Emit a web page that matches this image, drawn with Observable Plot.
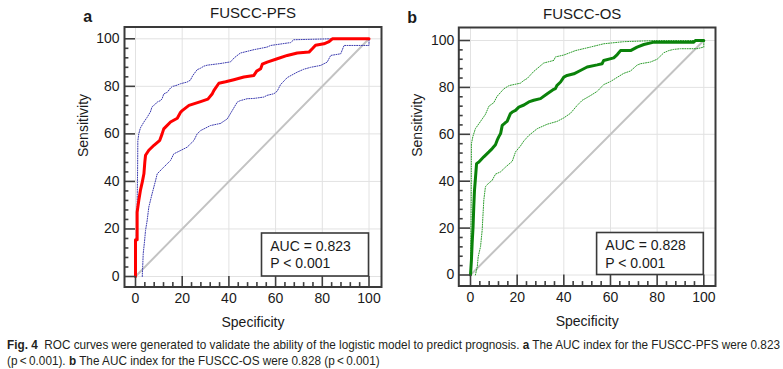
<!DOCTYPE html>
<html><head><meta charset="utf-8">
<script src="https://cdn.jsdelivr.net/npm/d3@7"></script>
<script src="https://cdn.jsdelivr.net/npm/@observablehq/plot@0.6"></script>
<style>
body{margin:0;background:#fff;}
#wrap{position:relative;width:783px;height:369px;overflow:hidden;background:#fff;}
#charts{position:absolute;left:0;top:0;display:flex;}
#cap{position:absolute;left:7px;top:336.5px;font-family:"Liberation Sans Narrow","Liberation Sans",Arial,sans-serif;font-size:13px;line-height:16.5px;color:#231f20;white-space:nowrap;transform-origin:0 0;}
#cap b{font-weight:bold;}
</style></head><body>
<div id="wrap"><div id="charts"></div>
<div id="cap"><div id="l1"><b>Fig. 4</b>&nbsp;&nbsp;ROC curves were generated to validate the ability of the logistic model to predict prognosis. <b>a</b> The AUC index for the FUSCC-PFS were 0.823</div><div id="l2">(p&#8201;&lt;&#8201;0.001). <b>b</b> The AUC index for the FUSCC-OS were 0.828 (p&#8201;&lt;&#8201;0.001)</div></div>
</div>
<script>
// ---- data ----
const majorTicks = [0, 20, 40, 60, 80, 100];
const tickLabels = ["0", "20", "40", "60", "80", "100"];
const minorTicks = [4, 8, 12, 16, 24, 28, 32, 36, 44, 48, 52, 56, 64, 68, 72, 76, 84, 88, 92, 96];
const diagSpec = [0, 100];
const diagSens = [0, 100];

const pfsTitle = "FUSCC-PFS";
const pfsLetter = "a";
const pfsAUC = ["AUC = 0.823", "P < 0.001"];
const pfsRocSpec = [0, 0, 0.7, 0.7, 1.4, 2.1, 2.9, 3.6, 4, 4.3, 5.7, 7.9, 10.4, 11.4, 12.1, 15, 17.9, 19.3, 20, 22.9, 27.9, 31, 32.9, 33.6, 35.7, 38.6, 42.1, 46.4, 50.7, 51.9, 53.6, 54.3, 56.4, 60.7, 65, 69.3, 74.3, 75.7, 77.1, 80.7, 82.9, 84.3, 100];
const pfsRocSens = [0, 15.5, 15.5, 27, 32, 36.2, 39.7, 43.2, 48.2, 51, 53.1, 55.2, 57.3, 60, 62.1, 65, 66.6, 69.1, 69.8, 72, 73.6, 74.6, 76.9, 78.3, 81.3, 81.9, 82.8, 83.9, 84.6, 86.4, 87.4, 89.3, 90.2, 91.6, 93, 94, 94.4, 95.8, 97.3, 97.9, 98.8, 100, 100];
const pfsUpperSpec = [0, 0.3, 0.7, 0.9, 1, 1.4, 2.1, 3.6, 5, 6.4, 7.1, 8.6, 9.3, 10.7, 11.4, 12.1, 13.6, 15, 15.7, 17.8, 19.3, 22.1, 23.5, 24.5, 26.4, 27.8, 29.3, 30.7, 36.4, 40.7, 42.3, 44.9, 50.6, 56.3, 57.9, 64.9, 66.4, 67.8, 83.5, 100];
const pfsUpperSens = [0, 15, 30, 45, 57, 60, 62.5, 65, 67, 69.3, 71.4, 72.6, 73.4, 74, 74.8, 76.8, 77.5, 79.3, 79.9, 80.5, 81.1, 81.8, 82.6, 84.5, 87, 87.6, 88.5, 88.9, 89.6, 90.3, 92, 94, 95.4, 96.5, 97.2, 98.2, 98.4, 99.6, 100, 100];
const pfsLowerSpec = [2.9, 3.3, 3.9, 4.3, 5, 5.7, 7.1, 8.6, 9.3, 12.1, 15, 16.4, 19.3, 22.1, 25, 26.4, 27.9, 30.7, 32.1, 36.4, 39.3, 40.7, 43.6, 44.9, 47.9, 50.6, 55, 56.3, 59.3, 60.7, 62.1, 65, 69.3, 72.1, 75, 79.3, 82.1, 83.6, 87.9, 89.3, 100, 100];
const pfsLowerSens = [0, 9.5, 15.1, 19.4, 23.6, 29.2, 34.8, 40.4, 43.2, 46, 48.8, 51.6, 53, 54.4, 57.2, 60, 61.4, 62.8, 63.5, 64.4, 66.3, 68.6, 73.4, 74, 74.8, 74.9, 75.5, 76.2, 76.9, 78, 80.7, 83.7, 86, 87.2, 88, 88.8, 90.2, 93, 93.7, 97.2, 97.2, 100];

const osTitle = "FUSCC-OS";
const osLetter = "b";
const osAUC = ["AUC = 0.828", "P < 0.001"];
const osRocSpec = [0, 0.4, 0.7, 1.1, 1.4, 1.7, 2.1, 2.6, 3.6, 5.7, 7.9, 9.3, 10.7, 11.4, 12.1, 12.9, 13.6, 15, 15.7, 17.1, 17.9, 19.3, 20.7, 22.9, 25, 27.1, 30, 32.9, 35.7, 36.4, 37.1, 38.6, 40, 41.4, 44.3, 47.1, 50, 54.3, 56.4, 57.1, 61.4, 62.9, 64.3, 68.6, 71.4, 74.3, 78.6, 95.7, 96.4, 100];
const osRocSens = [0, 6.4, 13.5, 20.6, 29, 36, 41, 47.5, 48.2, 50.4, 52.5, 53.9, 55.5, 57.4, 58.9, 60.3, 63.8, 65, 65.5, 68.8, 69.5, 70.2, 71.6, 72.5, 73.8, 74.5, 75.2, 77.3, 79.2, 79.5, 80.9, 82.3, 84.4, 85.1, 85.8, 87.2, 88.7, 89.6, 90.1, 91.5, 92.6, 94, 95.7, 95.7, 97.2, 98.3, 99.3, 99.3, 100, 100];
const osUpperSpec = [0, 0.3, 0.4, 1, 2.1, 3.6, 5, 6.4, 7.9, 10, 11.4, 14.3, 16.4, 17.1, 21.4, 22.9, 24.3, 27.1, 31.4, 35.7, 36.4, 40, 45, 51.4, 57.1, 65.7, 80, 100];
const osUpperSens = [0, 30, 56, 59, 62.4, 64.5, 66.5, 68.5, 72, 73.5, 76.2, 79.4, 80.7, 80.9, 81.8, 83, 83.8, 86.8, 90.4, 91.5, 93, 93.8, 95.7, 97.2, 98.6, 99.5, 100, 100];
const osLowerSpec = [2.1, 2.9, 3.3, 4.3, 5, 5.7, 6.4, 7.1, 9.3, 10.7, 12.9, 15, 17.9, 19.3, 21.4, 22.9, 25, 28.6, 32.9, 37.1, 40, 42.9, 45.7, 47.9, 51.4, 54.3, 57.1, 60, 62.9, 65.7, 68.6, 71.4, 72.9, 77.1, 80, 82.9, 85, 87.1, 90, 97.1, 100, 100];
const osLowerSens = [0, 3.5, 7.8, 12.1, 19.1, 31.9, 37.6, 38.5, 40.4, 43, 44, 46, 48.5, 52.5, 55, 57.2, 59.5, 62.4, 64.3, 65.5, 67, 69, 72.3, 74.5, 76.5, 78.3, 81.2, 82.5, 84.3, 86, 87, 89.5, 90.1, 90.8, 92, 94.8, 95.7, 96.2, 96.5, 96.5, 97.2, 100];

// ---- layout ----
const pairs = (a, b) => a.map((v, i) => ({spec: v, sens: b[i]}));

function aucBox(lines, boxW, boxH) {
  return (index, scales) => {
    const xr = scales.x(100), yb = scales.y(0);
    const g = d3.create("svg:g");
    g.append("rect").attr("x", xr - boxW).attr("y", yb - boxH).attr("width", boxW).attr("height", boxH)
      .attr("fill", "white").attr("stroke", "#3a3a3a").attr("stroke-width", 1.6);
    lines.forEach((t, i) => {
      g.append("text").attr("x", xr - boxW + 8.7).attr("y", yb - boxH + 17.7 + i * 17.3)
        .attr("text-anchor", "start").attr("font-size", 14).attr("fill", "#1a1a1a").text(t);
    });
    return g.node();
  };
}

function panel(cfg) {
  const kx = (cfg.x100 - cfg.x0) / 100, ky = (cfg.y0 - cfg.y100) / 100;
  const xL = (cfg.frameL - cfg.x0) / kx, xR = (cfg.frameR - cfg.x0) / kx;
  const yB = -(cfg.frameB - cfg.y0) / ky, yT = (cfg.y0 - cfg.frameT) / ky;
  const roc = pairs(cfg.rocSpec, cfg.rocSens);
  const up = pairs(cfg.upSpec, cfg.upSens);
  const lo = pairs(cfg.loSpec, cfg.loSens);
  const diag = pairs(diagSpec, diagSens);
  const tickCol = "#3f3f3f";
  return Plot.plot({
    width: cfg.width, height: 330,
    marginLeft: cfg.frameL - cfg.offset, marginRight: cfg.offset + cfg.width - cfg.frameR,
    marginTop: cfg.frameT, marginBottom: 330 - cfg.frameB,
    x: {domain: [xL, xR]}, y: {domain: [yB, yT]},
    style: {fontFamily: "'Liberation Sans', Arial, sans-serif", fontSize: "14px", color: "#1a1a1a", background: "white", overflow: "visible"},
    marks: [
      Plot.ruleX(majorTicks, {x: d => d, y1: 0, y2: yT, stroke: "#e2e2e2", strokeWidth: 1}),
      Plot.ruleY(majorTicks, {y: d => d, x1: 0, x2: xR, stroke: "#e2e2e2", strokeWidth: 1}),
      Plot.line(diag, {x: "spec", y: "sens", stroke: "#c3c3c3", strokeWidth: 2}),
      Plot.line(lo, {x: "spec", y: "sens", stroke: cfg.ciColor, strokeWidth: 1, strokeDasharray: "1,1.4"}),
      Plot.line(up, {x: "spec", y: "sens", stroke: cfg.ciColor, strokeWidth: 1, strokeDasharray: "1,1.4"}),
      Plot.line(roc, {x: "spec", y: "sens", stroke: cfg.color, strokeWidth: 3, strokeLinejoin: "round"}),
      aucBox(cfg.auc, cfg.boxW, cfg.boxH),
      Plot.ruleX(majorTicks, {x: d => d, y1: yB, y2: 0, stroke: tickCol, strokeWidth: 1.6}),
      Plot.ruleX(minorTicks, {x: d => d, y1: yB, y2: yB + 4.4 / ky, stroke: tickCol, strokeWidth: 1.6}),
      Plot.ruleY(majorTicks, {y: d => d, x1: xL, x2: 0, stroke: tickCol, strokeWidth: 1.6}),
      Plot.ruleY(minorTicks, {y: d => d, x1: xL, x2: xL + 4.4 / kx, stroke: tickCol, strokeWidth: 1.6}),
      Plot.frame({stroke: "#3a3a3a", strokeWidth: 2}),
      Plot.axisX(majorTicks, {anchor: "bottom", tickSize: 0, tickPadding: 6.5, tickFormat: d => tickLabels[majorTicks.indexOf(d)], label: null, fontSize: 14}),
      Plot.axisY(majorTicks, {anchor: "left", tickSize: 0, tickPadding: cfg.yPad, tickFormat: d => tickLabels[majorTicks.indexOf(d)], label: null, fontSize: 14}),
      Plot.text([cfg.title], {text: d => d, frameAnchor: "top", dx: cfg.titleDx, dy: -13.7, fontSize: 15, lineAnchor: "middle"}),
      Plot.text([cfg.letter], {text: d => d, frameAnchor: "top-left", dx: cfg.letterDx, dy: -10, fontSize: 16, fontWeight: "bold", lineAnchor: "middle", textAnchor: "middle"}),
      Plot.text(["Sensitivity"], {text: d => d, frameAnchor: "left", dx: cfg.ylabDx, rotate: -90, fontSize: 14, lineAnchor: "middle"}),
      Plot.text(["Specificity"], {text: d => d, frameAnchor: "bottom", dy: 35.5, fontSize: 14, lineAnchor: "middle"})
    ]
  });
}

const charts = document.getElementById("charts");
charts.append(panel({
  offset: 0, width: 391, frameL: 124, frameR: 381, frameT: 26.5, frameB: 286.5,
  x0: 135, x100: 368.5, y0: 276, y100: 38.3, yPad: 5,
  rocSpec: pfsRocSpec, rocSens: pfsRocSens, upSpec: pfsUpperSpec, upSens: pfsUpperSens, loSpec: pfsLowerSpec, loSens: pfsLowerSens,
  color: "#ff0000", ciColor: "#3c3cb0", title: pfsTitle, letter: pfsLetter, auc: pfsAUC, boxW: 107, boxH: 43,
  titleDx: 0, letterDx: -36.7, ylabDx: -41
}));
charts.append(panel({
  offset: 391, width: 392, frameL: 458.3, frameR: 715, frameT: 27, frameB: 285.5,
  x0: 470, x100: 703.3, y0: 274.5, y100: 40, yPad: 4.5,
  rocSpec: osRocSpec, rocSens: osRocSens, upSpec: osUpperSpec, upSens: osUpperSens, loSpec: osLowerSpec, loSens: osLowerSens,
  color: "#0a820a", ciColor: "#2e9e2e", title: osTitle, letter: osLetter, auc: osAUC, boxW: 106.7, boxH: 42,
  titleDx: -5, letterDx: -46.6, ylabDx: -41
}));

// fit the caption width to the reference line width
const cap = document.getElementById("cap");
const w1 = document.getElementById("l1").getBoundingClientRect().width;
cap.style.transform = `scaleX(${773 / w1})`;
</script>
</body></html>
